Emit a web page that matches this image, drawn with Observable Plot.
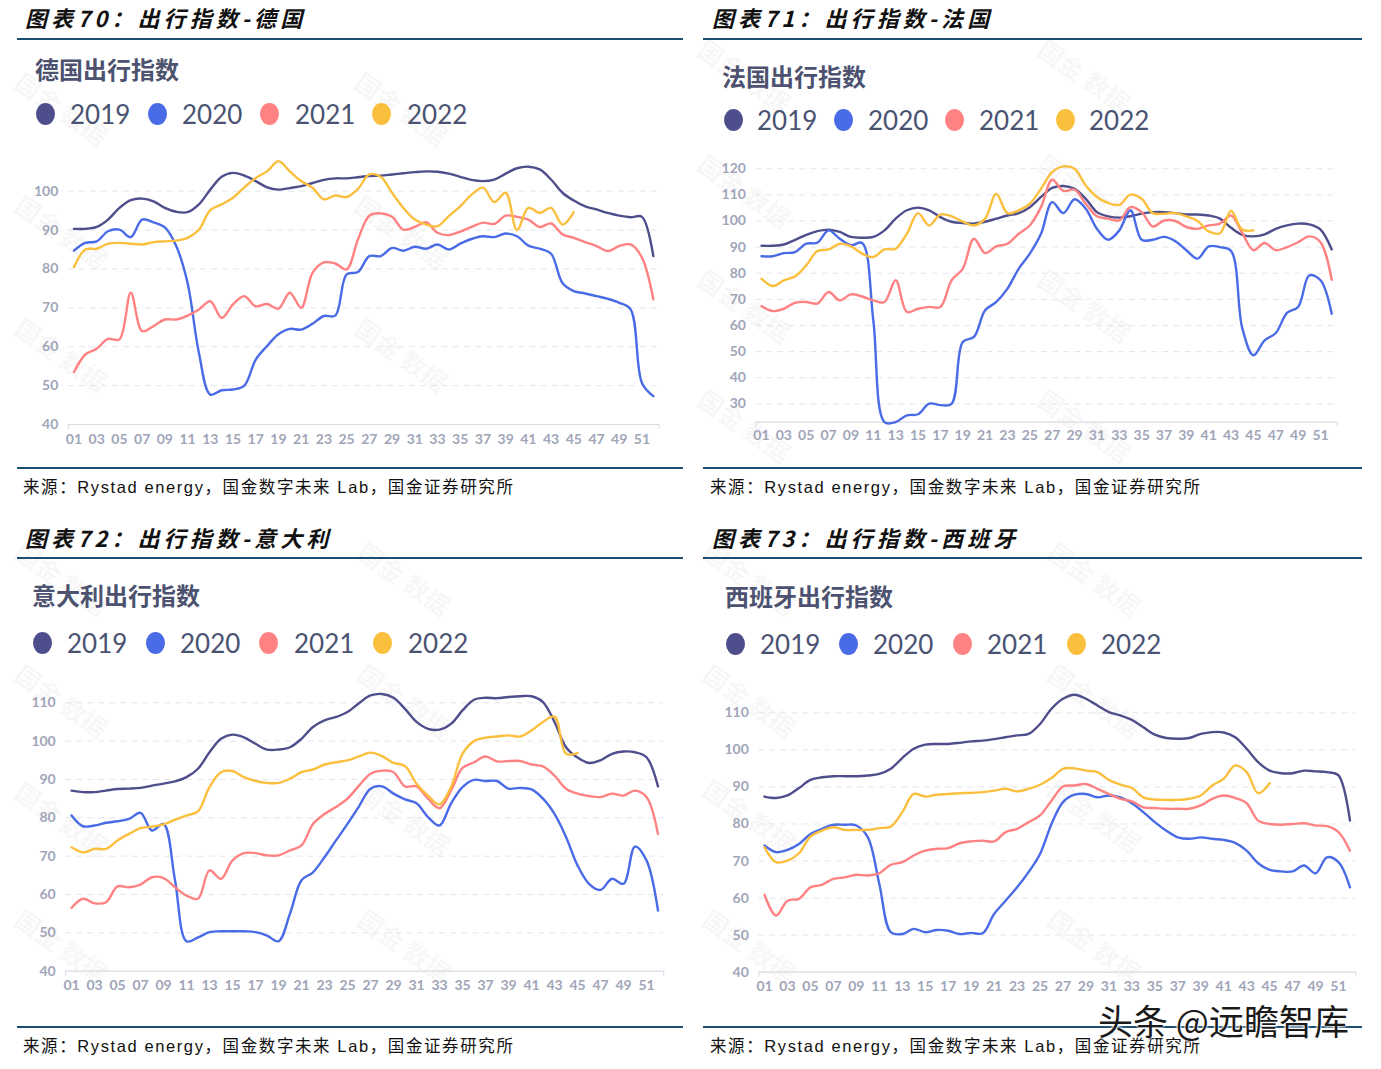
<!DOCTYPE html>
<html><head><meta charset="utf-8">
<script src="https://cdn.jsdelivr.net/npm/d3@7"></script>
<script src="https://cdn.jsdelivr.net/npm/@observablehq/plot@0.6"></script>
<style>
body{margin:0;background:#fff;}
#page{position:relative;width:1381px;height:1069px;overflow:hidden;background:#fff;font-family:"Noto Sans CJK SC",sans-serif;}
.t{position:absolute;white-space:nowrap;}
.hdr{font-size:22px;font-weight:700;font-style:italic;color:#111;letter-spacing:4.1px;font-family:"Noto Sans CJK SC",sans-serif;}
.rule{position:absolute;background:#1b4f72;}
.src{font-size:16.5px;color:#111;font-family:"Liberation Sans","Noto Sans CJK SC",sans-serif;letter-spacing:1.6px;}
.ttl{font-size:24px;font-weight:700;color:#4c5270;}
.leg{font-family:Lato,sans-serif;font-size:26px;color:#4a5272;}
.dot{position:absolute;width:19px;height:22px;border-radius:50%;}
.wm{position:absolute;font-size:25px;font-weight:700;color:rgba(0,0,0,0.055);transform:translate(-50%,-50%) rotate(35deg);white-space:nowrap;}
.plotbox{position:absolute;}
</style></head>
<body><div id="page"></div>
<script>
// ---------- data ----------
const years = ["2019", "2020", "2021", "2022"];
const colors = ["#4f4e8c", "#4a6be6", "#ff8282", "#fbbf3e"];
const weekTicks = [1,3,5,7,9,11,13,15,17,19,21,23,25,27,29,31,33,35,37,39,41,43,45,47,49,51];

const de2019 = [90.3,90.3,90.8,92.7,95.7,97.7,98.1,97.4,95.7,94.7,94.6,96.6,100.4,103.7,104.7,104,102.6,101,100.4,100.8,101.3,102.1,102.9,103.3,103.3,103.6,103.9,104,104.3,104.6,104.9,105.1,105,104.5,103.7,102.9,102.6,103,104.5,105.9,106.3,105.6,103,99.6,97.6,96.1,95.3,94.4,93.7,93.3,93.4,83.3];
const de2020 = [84.7,86.7,87.1,89.7,90.1,88.2,92.7,92,90.7,85.9,76.4,58.4,47.7,48.8,49,50,56.7,60.2,63.2,64.6,64.4,65.9,67.9,68,78.6,79.2,83.3,83.3,85.4,84.7,85.7,85.2,86.3,85,86.5,87.7,88.4,88.2,89.1,88.4,86,85.2,83.9,76.4,74.3,73.7,73,72.3,71.3,69.6,50.7,47.3];
const de2021 = [53.5,58,59.5,62,61.9,73.9,64,65.3,67,67,68,69.6,71.7,67.4,70.9,73,70.4,71,69.8,73.9,70,79,81.7,81.4,79.9,87.6,93.7,94.3,93.4,90.1,90.8,92,89.3,88.7,89.6,90.8,91.9,91.6,93.7,93.4,92.7,90.8,91.7,88.9,88,86.9,85.9,84.6,85.9,86.3,82.9,72.2];
const de2022 = [80.5,85,85.2,86.5,86.7,86.5,86.3,86.9,87.1,87.3,88,90.1,95.1,96.6,98.3,101,103.4,105.1,107.7,105.1,102.6,100.9,97.9,98.9,98.5,100.6,104.3,103.7,99.6,95.7,92.7,91.4,91,93.6,96.1,99.1,100.9,97.2,99.6,90,95.7,94.4,95.7,91.4,94.6];

const fr2019 = [90.5,90.5,91,92.8,94.7,96.1,96.7,95.8,93.9,93.6,93.9,96.4,100.9,104.1,105.1,104.1,101.5,99.7,99.2,99,99.7,100.9,102.1,103,105.3,109.2,112.7,113.4,112.3,108.5,103.4,101.8,101.3,101.8,102.8,103.4,103.4,103,102.5,102.5,102.1,100.9,97.4,94.7,94.1,94.9,97,98.3,99,98.7,96.7,89.1];
const fr2020 = [86.5,86.5,87.7,88.1,91.3,91.7,96.4,93.2,90.7,91.6,62,23,23,25.6,26,30.1,29.5,30,53.7,55.6,65.8,69,74.1,81.7,87.5,95.1,107.2,103,108.3,104.7,97,92.8,96.4,104.1,92.8,92.8,93.9,92.3,88.8,85.6,90.3,90,88.5,59,48.6,54.3,57.1,64.8,67.1,79.2,77.3,64.5];
const fr2021 = [67.4,65.5,66.4,68.7,69,68.4,72.8,69.6,71.9,71.1,69.6,69,77.3,65.2,66.4,67.1,67.1,77.3,81.7,93.2,87.7,90.3,91.3,95.1,98.3,105.3,115.8,111.5,112,106.6,101.8,100.9,100.2,105.3,103.4,97.9,100.2,100,97.7,97,98.3,99,102.1,95.4,88.8,91.6,88.8,90,91.9,94.1,91.9,77.5];
const fr2022 = [77.9,75.1,77.3,78.8,83,88.5,89.1,91.3,90.3,87.5,86.2,89.1,89.4,95.1,103,98.3,102.5,101.8,99.8,98.3,100.9,110.4,103,104.1,106.6,112.3,118.7,120.9,120,113.6,109.2,106.9,106.2,110.1,108.5,103,102.8,103,101.8,100,96,95.3,103.8,96.7,96.4];

const it2019 = [87.1,86.7,86.7,87.1,87.5,87.6,87.8,88.4,88.9,89.5,90.6,92.8,97.1,100.6,101.7,101,99.3,97.8,97.8,98.4,100.6,103.7,105.4,106.3,107.6,109.9,111.9,112.3,111.3,108.4,105,103.2,103,104.5,108,110.8,111.3,111.2,111.5,111.7,111.7,110.2,105,98.4,95.7,94.3,95,96.7,97.3,97.1,95.8,88.2];
const it2020 = [80.6,77.8,78,78.7,79.1,79.7,81.3,76.7,78.4,63.7,47.8,48.8,50.2,50.4,50.4,50.4,50.2,49.3,47.8,55,63.7,65.8,69.7,74.1,78.4,83,87.6,88.2,86.3,84.8,83.8,80.2,78,83.7,88,89.9,89.6,89.6,87.6,87.8,87.4,85,81,75,67.6,62.8,61.2,64.1,62.8,72.5,68.9,55.8];
const it2021 = [56.5,58.9,57.7,58,62.1,61.9,62.6,64.5,64.3,61.9,59.7,58.9,66.3,64.1,68.9,70.8,70.8,70.2,70.2,71.5,72.8,78.4,81,82.8,85,88.4,91.5,92.3,91.9,88.2,88.2,85,82.5,87.1,93,94.5,96,94.7,94.8,94.8,93.9,93.4,91,87.6,86.3,85.7,85.4,86.3,85.8,87.1,85.4,75.8];
const it2022 = [72.3,71,71.9,71.9,74.1,75.8,77.3,77.7,78.3,79.5,80.6,81.7,88,91.9,92.2,90.6,89.6,89.1,89.1,90.2,91.9,92.6,93.9,94.5,95,96,97,96.1,94.3,93.5,88.9,85.8,83.5,88,96.7,100,100.9,101.2,101.5,101.2,102.8,105,106.4,96.7,96.9];

const es2019 = [87.4,87,87.7,89.7,91.9,92.6,92.9,92.9,92.9,93.1,93.5,94.9,97.8,100.3,101.4,101.6,101.6,101.9,102.3,102.5,102.9,103.4,103.9,104.3,107,111.1,113.8,114.9,113.8,112,110.2,109.3,108.1,106.1,104.1,103.2,103,103.2,104.3,104.8,104.7,103.4,100.3,96.7,94.4,93.7,93.7,94.4,94.2,94,93.1,80.9];
const es2020 = [74.2,72.4,73,74.6,77.3,78.7,79.8,79.8,79.6,76.4,63.8,50.8,50.3,51.7,50.8,51.4,51.2,50.3,50.6,50.5,55.7,59.3,62.9,67,71.9,80,85.9,87.9,88.1,87.2,87.7,87.2,85.6,83.2,80.5,78.2,76.4,76,76.4,76,75.7,74.9,72.8,69.4,67.6,67.2,67.2,68.8,66.7,71,69.7,62.9];
const es2021 = [60.9,55.3,59.3,59.8,62.9,63.6,65.2,65.6,66.3,66.1,66.7,69,69.7,71.5,72.8,73.3,73.5,74.8,75.3,75.5,75.3,77.8,78.7,80.5,82.3,86.3,90.1,90.4,90.8,89.5,88.1,86.8,86.1,84.5,84.3,84.1,84.1,84.1,85,86.8,87.7,87,85.6,80.9,80,79.8,80,80.2,79.6,79.4,77.8,72.8];
const es2022 = [73.7,69.7,70.1,72.1,76.6,78.2,79.1,78.4,78.4,78.4,78.9,79.3,83.2,88.1,87.4,87.9,88.1,88.3,88.4,88.6,89,89.5,88.8,89.5,90.6,92.4,94.9,95,94.4,94,91.9,90.6,89.7,87.2,86.6,86.5,86.5,86.8,87.7,90.4,92.2,95.8,94,88.3,91];

const headers = ["图表70：出行指数-德国", "图表71：出行指数-法国", "图表72：出行指数-意大利", "图表73：出行指数-西班牙"];
const titles = ["德国出行指数", "法国出行指数", "意大利出行指数", "西班牙出行指数"];
const sourceText = "来源：Rystad energy，国金数字未来 Lab，国金证券研究所";

// ---------- layout ----------
const panels = [
  {series:[de2019,de2020,de2021,de2022], hx:25, hy:17, lx:[17,683], ly:39, by:468, sx:23, sy:487, tx:35, ty:69, legY:114,
   dots:[45,157,269,381], labs:[70,182,295,407], box:{x:0,y:130,w:690,h:330}, m:{l:67.8,r:31.5,t:21.8,b:36},
   yd:[40,110], yt:[40,50,60,70,80,90,100], grid:[50,60,70,80,90,100], xpad:10,
   wm:[[62,108],[402,108],[62,231],[402,231],[62,354],[402,354]]},
  {series:[fr2019,fr2020,fr2021,fr2022], hx:712, hy:17, lx:[703,1362], ly:39, by:468, sx:710, sy:487, tx:722, ty:76, legY:120,
   dots:[733,843,954,1065], labs:[757,868,979,1089], box:{x:690,y:130,w:691,h:330}, m:{l:65.4,r:44.2,t:25.2,b:38.4},
   yd:[23,125], yt:[30,40,50,60,70,80,90,100,110,120], grid:[30,40,50,60,70,80,90,100,110,120], xpad:8,
   wm:[[745,75],[1085,75],[745,190],[1085,190],[745,305],[1085,305],[745,425],[1085,425]]},
  {series:[it2019,it2020,it2021,it2022], hx:25, hy:537, lx:[17,683], ly:558, by:1027, sx:23, sy:1046, tx:32, ty:595, legY:643,
   dots:[42,155,268,382], labs:[67,180,294,408], box:{x:0,y:670,w:690,h:330}, m:{l:65.25,r:26.75,t:13.1,b:29.3},
   yd:[40,115], yt:[40,50,60,70,80,90,100,110], grid:[50,60,70,80,90,100,110], xpad:9,
   wm:[[62,578],[405,578],[62,700],[405,700],[62,818],[405,818],[62,945],[405,945]]},
  {series:[es2019,es2020,es2021,es2022], hx:712, hy:537, lx:[703,1362], ly:558, by:1027, sx:710, sy:1046, tx:725, ty:596, legY:644,
   dots:[735,848,962,1076], labs:[760,873,987,1101], box:{x:690,y:670,w:691,h:330}, m:{l:68.3,r:25.8,t:20.1,b:28.3},
   yd:[40,116], yt:[40,50,60,70,80,90,100,110], grid:[50,60,70,80,90,100,110], xpad:9,
   wm:[[750,578],[1095,578],[750,700],[1095,700],[750,815],[1095,815],[750,945],[1095,945]]}
];

const page = document.getElementById("page");
function text(x, yc, str, cls, lh) {
  const d = document.createElement("div");
  d.className = "t " + cls;
  d.style.left = x + "px";
  d.style.top = (yc - lh / 2) + "px";
  d.style.lineHeight = lh + "px";
  d.textContent = str;
  page.appendChild(d);
  return d;
}
function rule(x1, x2, y, h) {
  const d = document.createElement("div");
  d.className = "rule";
  d.style.left = x1 + "px"; d.style.width = (x2 - x1) + "px";
  d.style.top = (y - h / 2) + "px"; d.style.height = h + "px";
  page.appendChild(d);
}

panels.forEach((p, i) => {
  p.wm.forEach(([x, y]) => {
    const w = document.createElement("div");
    w.className = "wm"; w.style.left = x + "px"; w.style.top = y + "px";
    w.textContent = "国金 数据";
    page.appendChild(w);
  });
  text(p.hx, p.hy, headers[i], "hdr", 30);
  rule(p.lx[0], p.lx[1], p.ly, 2.5);
  rule(p.lx[0], p.lx[1], p.by, 2);
  text(p.sx, p.sy, sourceText, "src", 18);
  text(p.tx, p.ty, titles[i], "ttl", 32);
  years.forEach((yr, k) => {
    const d = document.createElement("div");
    d.className = "dot";
    d.style.left = (p.dots[k] - 9.5) + "px";
    d.style.top = (p.legY - 11) + "px";
    d.style.background = colors[k];
    page.appendChild(d);
    text(p.labs[k], p.legY, yr, "leg", 34);
  });

  const rows = [];
  p.series.forEach((arr, k) => arr.forEach((v, j) => rows.push({week: j + 1, value: v, year: years[k]})));

  const chart = Plot.plot({
    width: p.box.w, height: p.box.h,
    marginLeft: p.m.l, marginRight: p.m.r, marginTop: p.m.t, marginBottom: p.m.b,
    style: {background: "transparent", fontFamily: "Lato, sans-serif", fontSize: "14px", fontWeight: 700, color: "#a0a5b8", overflow: "visible"},
    x: {domain: [0.5, 52.5], label: null},
    y: {domain: p.yd, label: null},
    color: {domain: years, range: colors},
    marks: [
      Plot.gridY(p.grid, {stroke: "#e4e6ec", strokeOpacity: 1, strokeDasharray: "6,5"}),
      Plot.ruleY([p.yd[0]], {stroke: "#d7dae3", strokeWidth: 1.2}),
      Plot.axisX([0.5, 52.5], {tickSize: 5, tickFormat: () => "", stroke: "#d7dae3", label: null}),
      Plot.axisX(weekTicks, {tickSize: 0, tickPadding: p.xpad, tickFormat: d => String(d).padStart(2, "0"), label: null}),
      Plot.axisY(p.yt, {tickSize: 0, tickPadding: 10, label: null}),
      Plot.line(rows, {x: "week", y: "value", stroke: "year", z: "year", curve: "catmull-rom", strokeWidth: 2.4})
    ]
  });
  const holder = document.createElement("div");
  holder.className = "plotbox";
  holder.style.left = p.box.x + "px"; holder.style.top = p.box.y + "px";
  holder.appendChild(chart);
  page.appendChild(holder);
});

const ov = text(1098, 1020, "头条 @远瞻智库", "", 32);
ov.style.fontSize = "35px";
ov.style.color = "#1a1a1a";
ov.style.textShadow = "0 0 3px #fff, 0 0 3px #fff, 0 0 2px #fff";
</script>
</body></html>
